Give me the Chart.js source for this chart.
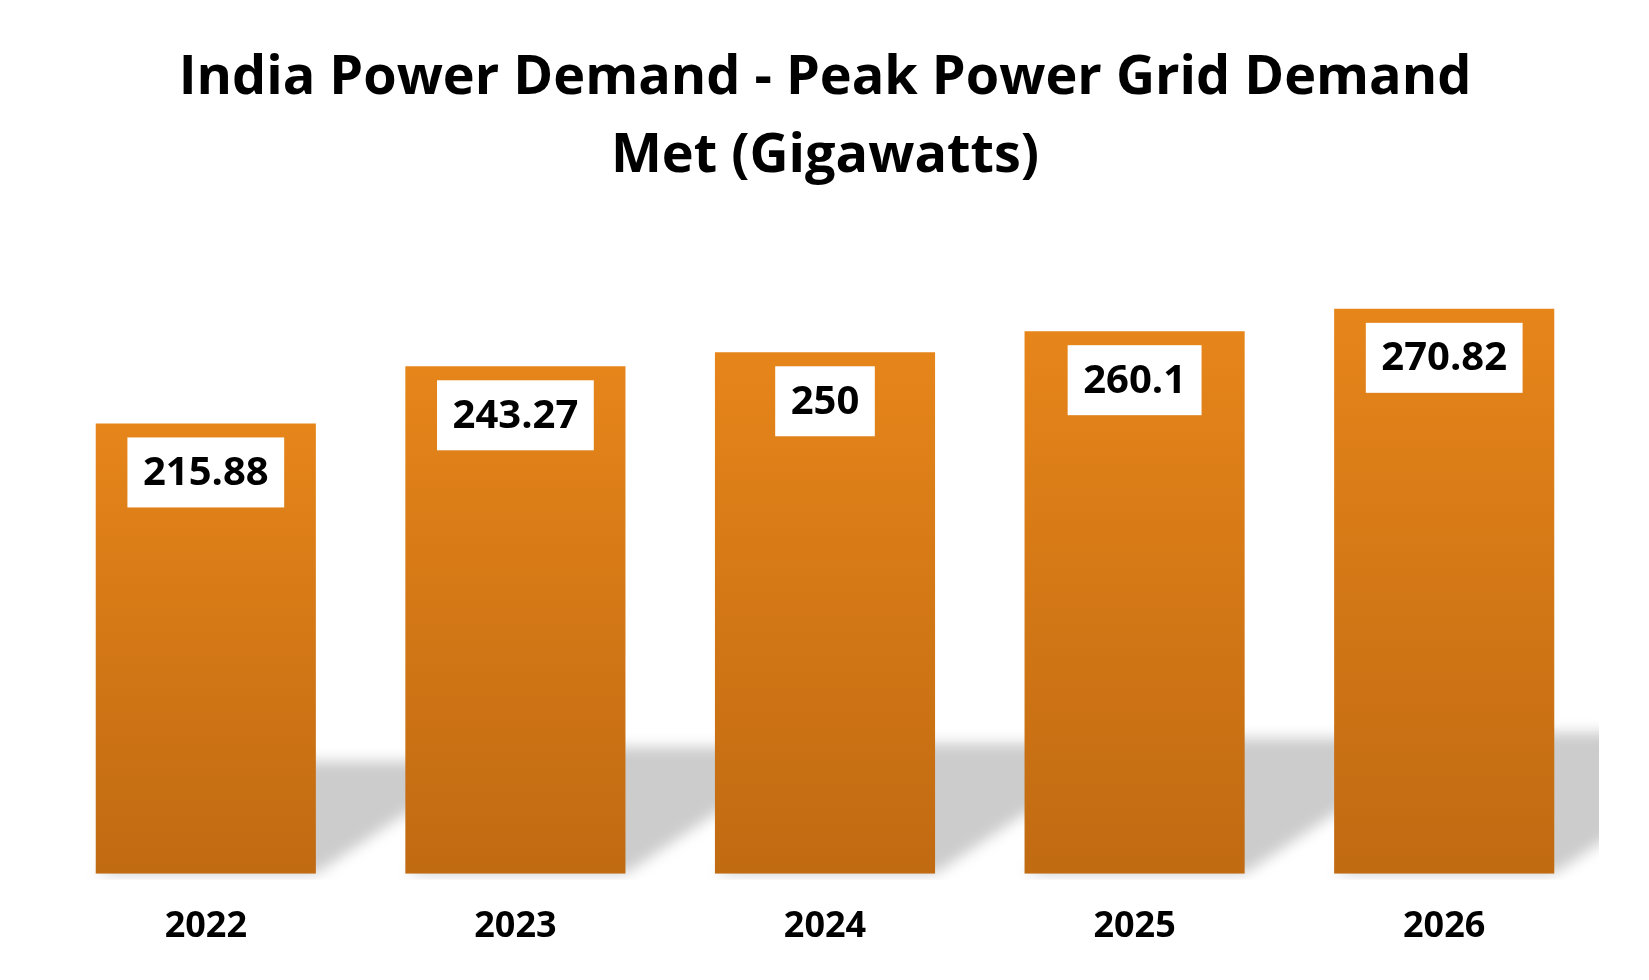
<!DOCTYPE html>
<html>
<head>
<meta charset="utf-8">
<title>India Power Demand</title>
<script src="https://cdn.jsdelivr.net/npm/chart.js@4.4.1/dist/chart.umd.min.js"></script>
<style>
  html, body { margin: 0; padding: 0; background: #ffffff; }
  #wrap { width: 1649px; height: 980px; }
</style>
</head>
<body>
<div id="wrap"><canvas id="myChart" width="1649" height="980"></canvas></div>
<script>
const years = ['2022', '2023', '2024', '2025', '2026'];
const peakDemand = [215.88, 243.27, 250, 260.1, 270.82];
const titleLines = ['India Power Demand - Peak Power Grid Demand', 'Met (Gigawatts)'];

const FONT = '"Open Sans", "DejaVu Sans", sans-serif';

// orange gradient, lighter at the top of each bar
function barFill(context) {
  const chart = context.chart;
  const { ctx, chartArea, scales } = chart;
  if (!chartArea) return '#d67815';
  const v = context.raw;
  const top = scales.y.getPixelForValue(v);
  const bottom = scales.y.getPixelForValue(0);
  const g = ctx.createLinearGradient(0, top, 0, bottom);
  g.addColorStop(0, '#e6851a');
  g.addColorStop(1, '#c06a12');
  return g;
}

// soft grey perspective shadow cast behind the bars
const barShadow = {
  id: 'barShadow',
  beforeDatasetsDraw(chart) {
    const { ctx, chartArea } = chart;
    const bars = chart.getDatasetMeta(0).data;
    ctx.save();
    ctx.beginPath();
    ctx.rect(chartArea.left, chartArea.top, chartArea.right - chartArea.left, chartArea.bottom - chartArea.top + 6);
    ctx.clip();
    ctx.filter = 'blur(7px)';
    ctx.fillStyle = '#cccccc';
    ctx.beginPath();
    bars.forEach((bar) => {
      const x0 = bar.x - bar.width / 2;
      const x1 = bar.x + bar.width / 2;
      const h = (bar.base - bar.y) * 0.25;
      const dx = h / 0.67;
      ctx.moveTo(x0, bar.base);
      ctx.lineTo(x1, bar.base);
      ctx.lineTo(x1 + dx, bar.base - h);
      ctx.lineTo(x0 + dx, bar.base - h);
      ctx.closePath();
    });
    ctx.fill();
    ctx.restore();
  }
};

// value in a white box near the top of every bar
const valueBoxes = {
  id: 'valueBoxes',
  afterDatasetsDraw(chart) {
    const { ctx } = chart;
    const bars = chart.getDatasetMeta(0).data;
    ctx.save();
    ctx.font = 'bold 40px ' + FONT;
    ctx.textAlign = 'center';
    ctx.textBaseline = 'middle';
    bars.forEach((bar, i) => {
      const text = String(peakDemand[i]);
      const w = ctx.measureText(text).width + 31;
      const h = 70;
      const top = bar.y + 14;
      ctx.fillStyle = '#ffffff';
      ctx.fillRect(bar.x - w / 2, top, w, h);
      ctx.fillStyle = '#000000';
      ctx.fillText(text, bar.x, top + h / 2 + 1);
    });
    ctx.restore();
  }
};

const ctx = document.getElementById('myChart').getContext('2d');

const data = {
  labels: years,
  datasets: [{
    label: 'Peak Power Grid Demand Met (GW)',
    data: peakDemand,
    backgroundColor: barFill,
    borderWidth: 0,
    barPercentage: 0.711,
    categoryPercentage: 1.0
  }]
};

const config = {
  type: 'bar',
  data: data,
  options: {
    responsive: false,
    animation: false,
    devicePixelRatio: 1,
    layout: { padding: { left: 51, right: 50, top: 0, bottom: 0 } },
    plugins: {
      legend: { display: false },
      tooltip: { enabled: false },
      title: {
        display: true,
        text: titleLines,
        color: '#000000',
        font: { family: FONT, size: 54, weight: 'bold', lineHeight: 1.444 },
        padding: { top: 40, bottom: 52 }
      }
    },
    scales: {
      x: {
        grid: { display: false, drawTicks: false },
        border: { display: false },
        ticks: {
          color: '#000000',
          padding: 36,
          font: { family: FONT, size: 36, weight: 'bold', lineHeight: 0.95 }
        }
      },
      y: {
        display: false,
        min: 0,
        max: 300
      }
    }
  },
  plugins: [barShadow, valueBoxes]
};

const myChart = new Chart(ctx, config);
</script>
</body>
</html>
